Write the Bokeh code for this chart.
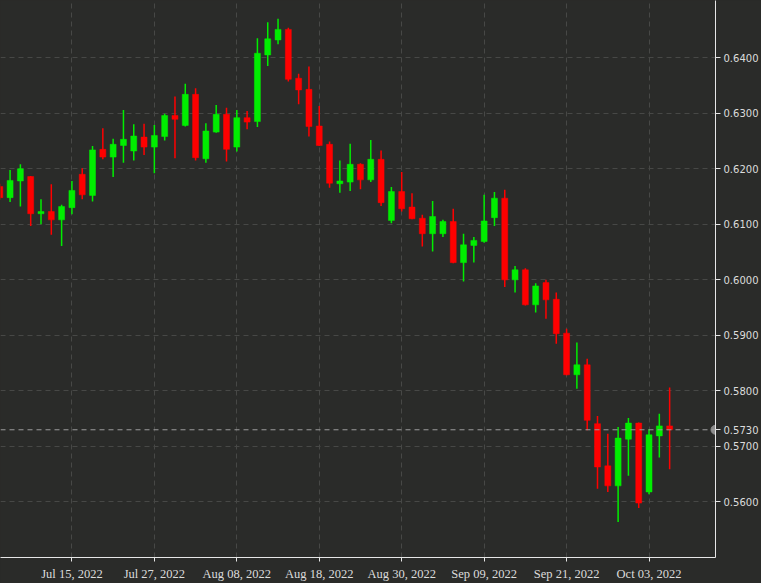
import pandas as pd
from bokeh.plotting import figure
from bokeh.models import ColumnDataSource, FixedTicker, Span
from bokeh.embed import file_html
from bokeh.resources import INLINE

# ---- data (AUD/USD daily candles) ----
dates = list(pd.bdate_range("2022-07-06", "2022-10-05"))

opens = [0.6168, 0.6148, 0.6178, 0.6186, 0.6119, 0.6123, 0.6108, 0.6130, 0.6190, 0.6152,
         0.6235, 0.6221, 0.6242, 0.6232, 0.6257, 0.6239, 0.6258, 0.6296, 0.6278, 0.6334,
         0.6218, 0.6266, 0.6298, 0.6239, 0.6292, 0.6285, 0.6405, 0.6432, 0.6451, 0.6363,
         0.6343, 0.6277, 0.6244, 0.6173, 0.6176, 0.6208, 0.6180, 0.6217, 0.6107, 0.6159,
         0.6131, 0.6111, 0.6083, 0.6083, 0.6105, 0.6031, 0.6062, 0.6069, 0.6112, 0.6147,
         0.6000, 0.6018, 0.5955, 0.5995, 0.5965, 0.5904, 0.5829, 0.5847, 0.5741, 0.5665,
         0.5629, 0.5713, 0.5742, 0.5618, 0.5719, 0.5737]
closes = [0.6148, 0.6179, 0.6200, 0.6119, 0.6123, 0.6108, 0.6132, 0.6161, 0.6153, 0.6234,
          0.6221, 0.6244, 0.6253, 0.6259, 0.6239, 0.6260, 0.6296, 0.6289, 0.6334, 0.6220,
          0.6268, 0.6298, 0.6235, 0.6292, 0.6284, 0.6408, 0.6434, 0.6451, 0.6361, 0.6342,
          0.6276, 0.6242, 0.6174, 0.6178, 0.6208, 0.6180, 0.6217, 0.6139, 0.6159, 0.6128,
          0.6110, 0.6083, 0.6114, 0.6105, 0.6031, 0.6063, 0.6071, 0.6106, 0.6147, 0.6000,
          0.6018, 0.5955, 0.5989, 0.5964, 0.5903, 0.5829, 0.5847, 0.5747, 0.5663, 0.5629,
          0.5715, 0.5742, 0.5598, 0.5721, 0.5737, 0.5730]
highs = [0.6173, 0.6198, 0.6208, 0.6187, 0.6145, 0.6172, 0.6135, 0.6178, 0.6201, 0.6241,
         0.6273, 0.6254, 0.6306, 0.6280, 0.6281, 0.6279, 0.6299, 0.6330, 0.6353, 0.6345,
         0.6282, 0.6315, 0.6310, 0.6306, 0.6304, 0.6435, 0.6464, 0.6470, 0.6454, 0.6371,
         0.6384, 0.6313, 0.6249, 0.6215, 0.6245, 0.6210, 0.6252, 0.6233, 0.6167, 0.6194,
         0.6156, 0.6117, 0.6142, 0.6108, 0.6128, 0.6083, 0.6077, 0.6153, 0.6158, 0.6162,
         0.6025, 0.6021, 0.5994, 0.6000, 0.5977, 0.5912, 0.5887, 0.5858, 0.5755, 0.5723,
         0.5735, 0.5751, 0.5743, 0.5731, 0.5759, 0.5806]
lows = [0.6144, 0.6140, 0.6132, 0.6097, 0.6100, 0.6081, 0.6061, 0.6118, 0.6145, 0.6141,
        0.6217, 0.6185, 0.6211, 0.6215, 0.6225, 0.6192, 0.6251, 0.6219, 0.6276, 0.6215,
        0.6211, 0.6265, 0.6213, 0.6231, 0.6271, 0.6275, 0.6385, 0.6424, 0.6357, 0.6316,
        0.6258, 0.6241, 0.6166, 0.6157, 0.6160, 0.6163, 0.6176, 0.6133, 0.6102, 0.6123,
        0.6109, 0.6060, 0.6051, 0.6077, 0.6030, 0.5997, 0.6031, 0.6067, 0.6097, 0.5987,
        0.5977, 0.5954, 0.5941, 0.5930, 0.5885, 0.5828, 0.5804, 0.5729, 0.5624, 0.5618,
        0.5564, 0.5647, 0.5589, 0.5614, 0.5680, 0.5659]

price_ticks = [0.56, 0.57, 0.58, 0.59, 0.60, 0.61, 0.62, 0.63, 0.64]
last_price = 0.5730
date_tick_every = 8
date_tick_first = 7

# ---- styling ----
BG = "#2a2b29"
UP = "#00ee00"
DOWN = "#ff0000"
GRID = "#474846"
AXIS = "#e6e6e6"
LABEL = "#dcdcdc"

idx = list(range(len(dates)))
colors = [UP if c >= o else DOWN for o, c in zip(opens, closes)]
src = ColumnDataSource(dict(
    x=idx, open=opens, close=closes, high=highs, low=lows,
    top=[max(o, c) for o, c in zip(opens, closes)],
    bottom=[min(o, c) for o, c in zip(opens, closes)],
    color=colors,
))

p = figure(width=761, height=583, x_range=(0.07, 69.45), y_range=(0.5500, 0.6503),
           output_backend="svg", toolbar_location=None, y_axis_location="right",
           min_border_left=0, min_border_top=0, min_border_right=46, min_border_bottom=26,
           background_fill_color=BG, border_fill_color=BG, outline_line_color=None)

# grid
date_ticks = list(range(date_tick_first, len(dates), date_tick_every))
p.xgrid.ticker = FixedTicker(ticks=date_ticks)
p.ygrid.ticker = FixedTicker(ticks=price_ticks)
for g in (p.xgrid, p.ygrid):
    g.grid_line_color = GRID
    g.grid_line_dash = "5 4"
    g.grid_line_width = 1

# candles
p.segment(x0="x", y0="low", x1="x", y1="high", color="color", line_width=1.5, source=src)
p.vbar(x="x", width=0.58, top="top", bottom="bottom", fill_color="color",
       line_color="color", line_width=0.5, source=src)

# last price line + marker
p.add_layout(Span(location=last_price, dimension="width", line_color="#9c9c9c",
                  line_dash="5 4", line_width=1))
p.scatter(x=[p.x_range.end], y=[last_price], size=9, color="#8c8c8c")

# x axis
xa = p.xaxis[0]
xa.ticker = FixedTicker(ticks=date_ticks)
xa.major_label_overrides = {i: dates[i].strftime("%b %d, %Y") for i in date_ticks}
xa.axis_line_color = AXIS
xa.major_tick_line_color = AXIS
xa.major_tick_in = 0
xa.major_tick_out = 4
xa.minor_tick_line_color = None
xa.major_label_text_color = LABEL
xa.major_label_text_font = "Liberation Sans Narrow"
xa.major_label_text_font_size = "12.5px"
xa.major_label_standoff = 5

# y axis (right)
ya = p.yaxis[0]
ya.ticker = FixedTicker(ticks=price_ticks + [last_price])
ya.formatter.__class__  # keep default
from bokeh.models import NumeralTickFormatter
ya.formatter = NumeralTickFormatter(format="0.0000")
ya.axis_line_color = AXIS
ya.major_tick_line_color = AXIS
ya.major_tick_in = 0
ya.major_tick_out = 5
ya.minor_tick_line_color = None
ya.major_label_text_color = LABEL
ya.major_label_text_font = "DejaVu Sans"
ya.major_label_text_font_size = "10px"
ya.major_label_standoff = 3

html = file_html(p, INLINE)
html = html.replace("<head>", "<head><style>html,body{margin:0;padding:0;background:%s;}</style>" % BG, 1)
open("out.html", "w").write(html)
